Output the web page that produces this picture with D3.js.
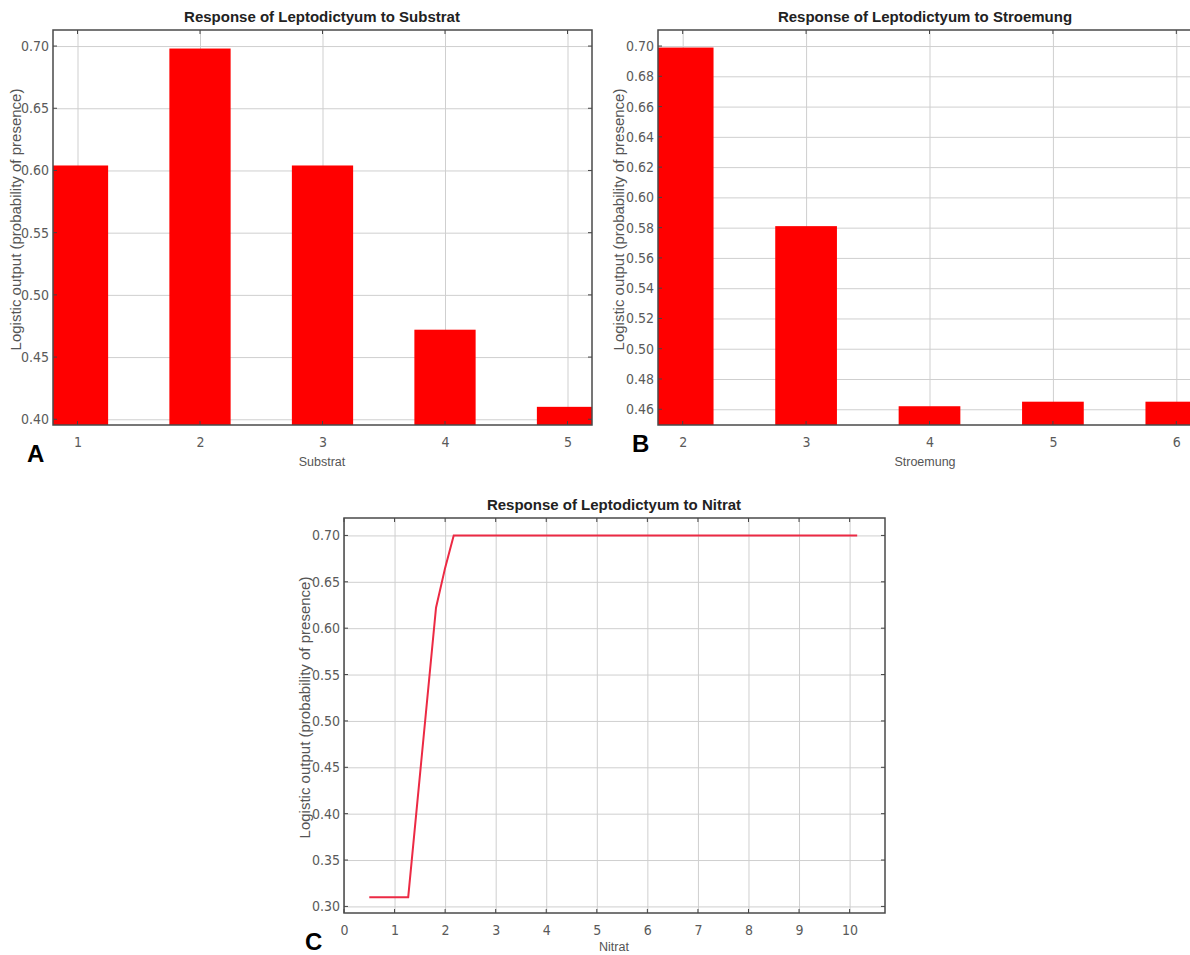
<!DOCTYPE html>
<html>
<head>
<meta charset="utf-8">
<script src="https://cdn.jsdelivr.net/npm/d3@7"></script>
<style>
  body { margin: 0; background: #fff; overflow: hidden; }
  svg { display: block; }
  .tick text { font-family: "Liberation Sans Narrow", "DejaVu Sans Condensed", "Liberation Sans", sans-serif; font-size: 14px; fill: #5a5a5a; }
  .grid line { stroke: #cfcfcf; stroke-width: 1; }
  .grid path { display: none; }
  .lbl path { display: none; }
  .lbl line { display: none; }
  .title { font-family: "Liberation Sans", Arial, sans-serif; font-weight: bold; font-size: 15px; fill: #222; }
  .axtitle { font-family: "Liberation Sans", Arial, sans-serif; font-size: 12.5px; fill: #555; }
  .ylab { font-family: "Liberation Sans", Arial, sans-serif; font-size: 15px; fill: #555; }
  .panel-letter { font-family: "Liberation Sans", Arial, sans-serif; font-weight: bold; font-size: 24px; fill: #000; }
</style>
</head>
<body>
<script>
// --- data ---
var substratCats = [1, 2, 3, 4, 5];
var substratValues = [0.604, 0.698, 0.604, 0.472, 0.410];
var substratYTicks = [0.40, 0.45, 0.50, 0.55, 0.60, 0.65, 0.70];

var stroemungCats = [2, 3, 4, 5, 6];
var stroemungValues = [0.699, 0.581, 0.462, 0.465, 0.465];
var stroemungYTicks = [0.46, 0.48, 0.50, 0.52, 0.54, 0.56, 0.58, 0.60, 0.62, 0.64, 0.66, 0.68, 0.70];

var nitratX = [0.5, 1.27, 1.82, 2.0, 2.17, 10.15];
var nitratY = [0.31, 0.31, 0.622, 0.665, 0.70, 0.70];
var nitratXTicks = [0, 1, 2, 3, 4, 5, 6, 7, 8, 9, 10];
var nitratYTicks = [0.30, 0.35, 0.40, 0.45, 0.50, 0.55, 0.60, 0.65, 0.70];

var yLabel = "Logistic output (probability of presence)";

var svg = d3.select("body").append("svg")
    .attr("width", 1190)
    .attr("height", 955);

var defs = svg.append("defs");

function panel(id, box, xDomain, yDomain, xTicks, yTicks, title, titleX, xTitle, xTitleY, letter, letterPos, yLabelX) {
  var x = d3.scaleLinear().domain(xDomain).range([box.left, box.right]);
  var y = d3.scaleLinear().domain(yDomain).range([box.bottom, box.top]);

  defs.append("clipPath").attr("id", "clip-" + id)
    .append("rect")
    .attr("x", box.left).attr("y", box.top)
    .attr("width", box.right - box.left).attr("height", box.bottom - box.top);

  var g = svg.append("g");

  // grid
  g.append("g").attr("class", "grid")
    .attr("transform", "translate(0," + box.bottom + ")")
    .call(d3.axisBottom(x).tickValues(xTicks).tickSize(-(box.bottom - box.top)).tickFormat(""));
  g.append("g").attr("class", "grid")
    .attr("transform", "translate(" + box.left + ",0)")
    .call(d3.axisLeft(y).tickValues(yTicks).tickSize(-(box.right - box.left)).tickFormat(""));

  var plot = g.append("g").attr("clip-path", "url(#clip-" + id + ")");

  // small inward tick marks on all four sides
  var tk = g.append("g").attr("stroke", "#444").attr("stroke-width", 1);
  xTicks.forEach(function(t) {
    tk.append("line").attr("x1", x(t)).attr("x2", x(t)).attr("y1", box.top).attr("y2", box.top + 4);
    tk.append("line").attr("x1", x(t)).attr("x2", x(t)).attr("y1", box.bottom).attr("y2", box.bottom - 4);
  });
  yTicks.forEach(function(t) {
    tk.append("line").attr("x1", box.left).attr("x2", box.left + 4).attr("y1", y(t)).attr("y2", y(t));
    tk.append("line").attr("x1", box.right).attr("x2", box.right - 4).attr("y1", y(t)).attr("y2", y(t));
  });

  // tick labels
  g.append("g").attr("class", "lbl")
    .attr("transform", "translate(0," + box.bottom + ")")
    .call(d3.axisBottom(x).tickValues(xTicks).tickSize(0).tickPadding(12).tickFormat(d3.format("d")));
  g.append("g").attr("class", "lbl")
    .attr("transform", "translate(" + box.left + ",0)")
    .call(d3.axisLeft(y).tickValues(yTicks).tickSize(0).tickPadding(4).tickFormat(d3.format(".2f")));

  g.append("text").attr("class", "title")
    .attr("x", titleX)
    .attr("y", box.top - 8)
    .attr("text-anchor", "middle")
    .text(title);

  g.append("text").attr("class", "axtitle")
    .attr("x", titleX)
    .attr("y", xTitleY)
    .attr("text-anchor", "middle")
    .text(xTitle);

  g.append("text").attr("class", "ylab")
    .attr("transform", "translate(" + yLabelX + "," + ((box.top + box.bottom) / 2 - 8) + ") rotate(-90)")
    .attr("text-anchor", "middle")
    .text(yLabel);

  g.append("text").attr("class", "panel-letter")
    .attr("x", letterPos[0]).attr("y", letterPos[1])
    .text(letter);

  return {x: x, y: y, plot: plot, g: g, box: box};
}

function border(p) {
  p.g.append("rect")
    .attr("x", p.box.left).attr("y", p.box.top)
    .attr("width", p.box.right - p.box.left).attr("height", p.box.bottom - p.box.top)
    .attr("fill", "none").attr("stroke", "#4a4a4a").attr("stroke-width", 1.5);
}

function bars(p, cats, vals) {
  p.plot.selectAll("rect.bar")
    .data(cats)
    .enter().append("rect")
    .attr("class", "bar")
    .attr("x", function(d) { return p.x(d - 0.25); })
    .attr("width", function(d) { return p.x(d + 0.25) - p.x(d - 0.25); })
    .attr("y", function(d, i) { return p.y(vals[i]); })
    .attr("height", function(d, i) { return p.y.range()[0] - p.y(vals[i]); })
    .attr("fill", "#ff0000");
}

// A: Substrat
var pA = panel("a", {left: 53, right: 592, top: 30, bottom: 425},
  [0.8, 5.2], [0.3954, 0.7129], substratCats, substratYTicks,
  "Response of Leptodictyum to Substrat", 322, "Substrat", 466, "A", [27, 462], 21);
bars(pA, substratCats, substratValues);
border(pA);

// B: Stroemung (right side runs past the picture edge)
var pB = panel("b", {left: 658, right: 1201, top: 30, bottom: 425},
  [1.8, 6.2], [0.4496, 0.7106], stroemungCats, stroemungYTicks,
  "Response of Leptodictyum to Stroemung", 925, "Stroemung", 466, "B", [632, 452], 624);
bars(pB, stroemungCats, stroemungValues);
border(pB);

// C: Nitrat
var pC = panel("c", {left: 344, right: 885, top: 518, bottom: 913},
  [0, 10.7], [0.2929, 0.7188], nitratXTicks, nitratYTicks,
  "Response of Leptodictyum to Nitrat", 614, "Nitrat", 951, "C", [305, 950], 310);

var line = d3.line()
  .x(function(d) { return pC.x(d[0]); })
  .y(function(d) { return pC.y(d[1]); });

pC.plot.append("path")
  .datum(d3.zip(nitratX, nitratY))
  .attr("d", line)
  .attr("fill", "none")
  .attr("stroke", "#ec2a44")
  .attr("stroke-width", 2);
border(pC);
</script>
</body>
</html>
